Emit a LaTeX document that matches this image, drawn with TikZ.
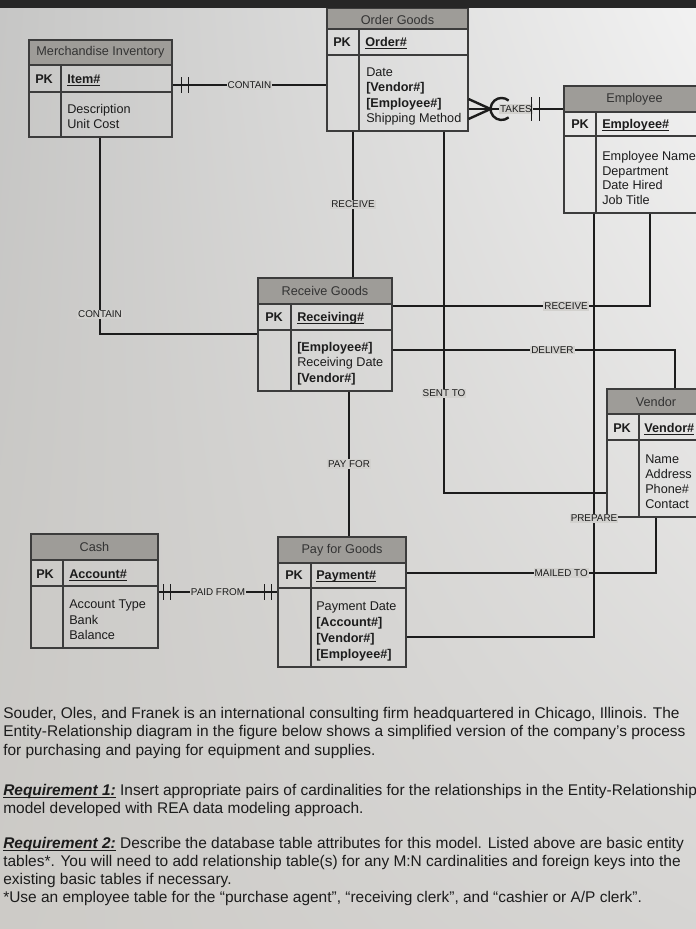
\documentclass[tikz,border=0pt]{standalone}
\usepackage{fontspec}
\setmainfont{Liberation Sans}
\usetikzlibrary{fit,calc,shadings}
\definecolor{ink}{RGB}{28,28,28}
\definecolor{edge}{RGB}{60,60,60}
\definecolor{hdr}{RGB}{158,156,152}
\definecolor{paper}{RGB}{210,209,206}
\definecolor{band}{RGB}{38,38,38}
\definecolor{bgUL}{RGB}{205,203,199}
\definecolor{bgUR}{RGB}{214,213,211}
\definecolor{bgLL}{RGB}{198,198,197}
\definecolor{bgLR}{RGB}{242,242,242}
\newcommand\myul[1]{\setbox0\hbox{#1}\rlap{\raisebox{-2.2pt}{\rule{\wd0}{0.75pt}}}\box0\relax}
\begin{document}
\begin{tikzpicture}[x=0.75pt,y=-0.75pt,
  ebox/.style={draw=edge, line width=0.8pt, inner sep=0pt},
  ehead/.style={draw=edge, line width=0.8pt, fill=hdr, inner sep=0pt},
  eline/.style={draw=edge, line width=0.8pt},
  etitle/.style={font=\fontsize{9.5}{11}\selectfont, text=ink!90, inner sep=0pt},
  pk/.style={font=\fontsize{9.5}{11}\selectfont\bfseries, text=ink, anchor=base west, inner sep=0pt},
  attr/.style={font=\fontsize{9.5}{11}\selectfont, text=ink, anchor=base west, inner sep=0pt},
  conn/.style={draw=ink, line width=2.1pt},
  crow/.style={draw=ink, line width=1.8pt},
  tick/.style={draw=ink, line width=1.4pt},
  lbl/.style={font=\fontsize{7.4}{9}\selectfont, text=ink, fill=paper, inner sep=0.8pt},
  para/.style={font=\fontsize{11.6}{14}\selectfont, text=ink, anchor=base west, inner sep=0pt}
]
\useasboundingbox (0,0) rectangle (696,929);
\clip (0,0) rectangle (696,929);
% y axis points down, so the shading's upper/lower corners are swapped
\shade[upper left=bgLL, upper right=bgLR, lower left=bgUL, lower right=bgUR] (0,0) rectangle (696,929);

% ---------- Merchandise Inventory
\node[ebox, fit={(29,40)(172,137)}] (MI) {};
\node[ehead, fit={(29,40)(172,65)}] (MIh) {};
\node[etitle] (MIt) at (MIh.center) {Merchandise Inventory};
\draw[eline] (MI.west |- 0,92) -- (MI.east |- 0,92);
\draw[eline] (61,0 |- MIh.south) -- (61,0 |- MI.south);
\node[pk] (MIpk) at (35,83) {PK};
\node[pk] (MIk) at (67,83) {\myul{Item\#}};
\foreach \t [count=\i] in {Description, Unit Cost}
  \node[attr] (MIa\i) at (67,{113+15*(\i-1)}) {\t};

% ---------- Order Goods
\node[ebox, fit={(327,8)(468,131)}] (OG) {};
\node[ehead, fit={(327,8)(468,29)}] (OGh) {};
\node[etitle] (OGt) at ([yshift=-1pt]OGh.center) {Order Goods};
\draw[eline] (OG.west |- 0,55) -- (OG.east |- 0,55);
\draw[eline] (359,0 |- OGh.south) -- (359,0 |- OG.south);
\node[pk] (OGpk) at (333,46) {PK};
\node[pk] (OGk) at (365,46) {\myul{Order\#}};
\foreach \t [count=\i] in {Date, {\textbf{[Vendor\#]}}, {\textbf{[Employee\#]}}, Shipping Method}
  \node[attr] (OGa\i) at (366,{76.5+15.3*(\i-1)}) {\t};

% ---------- Employee
\node[ebox, fit={(564,86)(705,213)}] (EMP) {};
\node[ehead, fit={(564,86)(705,112)}] (EMPh) {};
\node[etitle] (EMPt) at (EMPh.center) {Employee};
\draw[eline] (EMP.west |- 0,136) -- (EMP.east |- 0,136);
\draw[eline] (596,0 |- EMPh.south) -- (596,0 |- EMP.south);
\node[pk] (EMPpk) at (571,128.5) {PK};
\node[pk] (EMPk) at (602,128.5) {\myul{Employee\#}};
\foreach \t [count=\i] in {Employee Name, Department, Date Hired, Job Title}
  \node[attr] (EMPa\i) at (602,{160.5+14.7*(\i-1)}) {\t};

% ---------- Receive Goods
\node[ebox, fit={(258,278)(392,391)}] (RG) {};
\node[ehead, fit={(258,278)(392,304)}] (RGh) {};
\node[etitle] (RGt) at (RGh.center) {Receive Goods};
\draw[eline] (RG.west |- 0,330) -- (RG.east |- 0,330);
\draw[eline] (291,0 |- RGh.south) -- (291,0 |- RG.south);
\node[pk] (RGpk) at (265,321) {PK};
\node[pk] (RGk) at (297,321) {\myul{Receiving\#}};
\foreach \t [count=\i] in {{\textbf{[Employee\#]}}, Receiving Date, {\textbf{[Vendor\#]}}}
  \node[attr] (RGa\i) at (297,{351+15.6*(\i-1)}) {\t};

% ---------- Vendor
\node[ebox, fit={(607,389)(705,517)}] (V) {};
\node[ehead, fit={(607,389)(705,414)}] (Vh) {};
\node[etitle] (Vt) at (Vh.center) {Vendor};
\draw[eline] (V.west |- 0,440) -- (V.east |- 0,440);
\draw[eline] (639,0 |- Vh.south) -- (639,0 |- V.south);
\node[pk] (Vpk) at (613,432) {PK};
\node[pk] (Vk) at (644,432) {\myul{Vendor\#}};
\foreach \t [count=\i] in {Name, Address, Phone\#, Contact}
  \node[attr] (Va\i) at (645,{463+15.2*(\i-1)}) {\t};

% ---------- Cash
\node[ebox, fit={(31,534)(158,648)}] (Cash) {};
\node[ehead, fit={(31,534)(158,560)}] (Cashh) {};
\node[etitle] (Casht) at (Cashh.center) {Cash};
\draw[eline] (Cash.west |- 0,586) -- (Cash.east |- 0,586);
\draw[eline] (63,0 |- Cashh.south) -- (63,0 |- Cash.south);
\node[pk] (Cashpk) at (36,578) {PK};
\node[pk] (Cashk) at (69,578) {\myul{Account\#}};
\foreach \t [count=\i] in {Account Type, Bank, Balance}
  \node[attr] (Casha\i) at (69,{608.5+15.5*(\i-1)}) {\t};

% ---------- Pay for Goods
\node[ebox, fit={(278,537)(406,667)}] (PG) {};
\node[ehead, fit={(278,537)(406,563)}] (PGh) {};
\node[etitle] (PGt) at (PGh.center) {Pay for Goods};
\draw[eline] (PG.west |- 0,588) -- (PG.east |- 0,588);
\draw[eline] (311,0 |- PGh.south) -- (311,0 |- PG.south);
\node[pk] (PGpk) at (285,579.5) {PK};
\node[pk] (PGk) at (316,579.5) {\myul{Payment\#}};
\foreach \t [count=\i] in {Payment Date, {\textbf{[Account\#]}}, {\textbf{[Vendor\#]}}, {\textbf{[Employee\#]}}}
  \node[attr] (PGa\i) at (316,{610.5+16*(\i-1)}) {\t};

% ---------- Connectors
\draw[conn] (MI.east |- 0,85) -- node[lbl]{CONTAIN} (OG.west |- 0,85);
\draw[tick] ($(MI.east |- 0,85)+(9,-8)$) -- ++(0,16);
\draw[tick] ($(MI.east |- 0,85)+(16,-8)$) -- ++(0,16);

\draw[conn] (OG.east |- 0,109) -- node[lbl]{TAKES} (EMP.west |- 0,109);
\coordinate (cf) at ($(OG.east |- 0,109)+(22,0)$);
\draw[crow] (OG.east |- 0,99) -- (cf) -- (OG.east |- 0,119);
\draw[crow] ($(cf)+(18.1,8.4)$) arc[start angle=50, end angle=310, radius=11];
\draw[tick] ($(EMP.west |- 0,109)+(-32,-12)$) -- ++(0,24);
\draw[tick] ($(EMP.west |- 0,109)+(-24,-12)$) -- ++(0,24);

\draw[conn] (OG.south -| 353,0) -- node[lbl]{RECEIVE} (RG.north -| 353,0);
\draw[conn] (OG.south -| 444,0) |- node[lbl,pos=0.362]{SENT TO} (V.west |- 0,493);
\draw[conn] (MI.south -| 100,0) |- node[lbl,pos=0.45]{CONTAIN} (RG.west |- 0,334);
\draw[conn] (RG.east |- 0,306) -| node[lbl,pos=0.337]{RECEIVE} (EMP.south -| 650,0);
\draw[conn] (RG.east |- 0,350) -| node[lbl,pos=0.283]{DELIVER} (V.north -| 675,0);
\draw[conn] (EMP.south -| 594,0) |- node[lbl,pos=0.36]{PREPARE} (PG.east |- 0,637);
\draw[conn] (PG.east |- 0,573) -| node[lbl,pos=0.31]{MAILED TO} (V.south -| 656,0);
\draw[conn] (RG.south -| 349,0) -- node[lbl]{PAY FOR} (PG.north -| 349,0);

\draw[conn] (Cash.east |- 0,592) -- node[lbl]{PAID FROM} (PG.west |- 0,592);
\draw[tick] ($(Cash.east |- 0,592)+(5,-8)$) -- ++(0,16);
\draw[tick] ($(Cash.east |- 0,592)+(12,-8)$) -- ++(0,16);
\draw[tick] ($(PG.west |- 0,592)+(-13,-8)$) -- ++(0,16);
\draw[tick] ($(PG.west |- 0,592)+(-6,-8)$) -- ++(0,16);

% ---------- Text below
\node[para] (p1) at (3,718) {Souder, Oles, and Franek is an international consulting firm headquartered in Chicago, Illinois. The};
\node[para] (p2) at (3,736.5) {Entity-Relationship diagram in the figure below shows a simplified version of the company’s process};
\node[para] (p3) at (3,755.5) {for purchasing and paying for equipment and supplies.};
\node[para] (r1a) at (3,795) {\myul{\textbf{\textit{Requirement 1:}}} Insert appropriate pairs of cardinalities for the relationships in the Entity-Relationship};
\node[para] (r1b) at (3,813) {model developed with REA data modeling approach.};
\node[para] (r2a) at (3,848) {\myul{\textbf{\textit{Requirement 2:}}} Describe the database table attributes for this model. Listed above are basic entity};
\node[para] (r2b) at (3,866) {tables*. You will need to add relationship table(s) for any M:N cardinalities and foreign keys into the};
\node[para] (r2c) at (3,884.5) {existing basic tables if necessary.};
\node[para] (r2d) at (3,902) {*Use an employee table for the “purchase agent”, “receiving clerk”, and “cashier or A/P clerk”.};

% ---------- dark edge of photo
\fill[band] (0,0) rectangle (696,8);
\end{tikzpicture}
\end{document}
